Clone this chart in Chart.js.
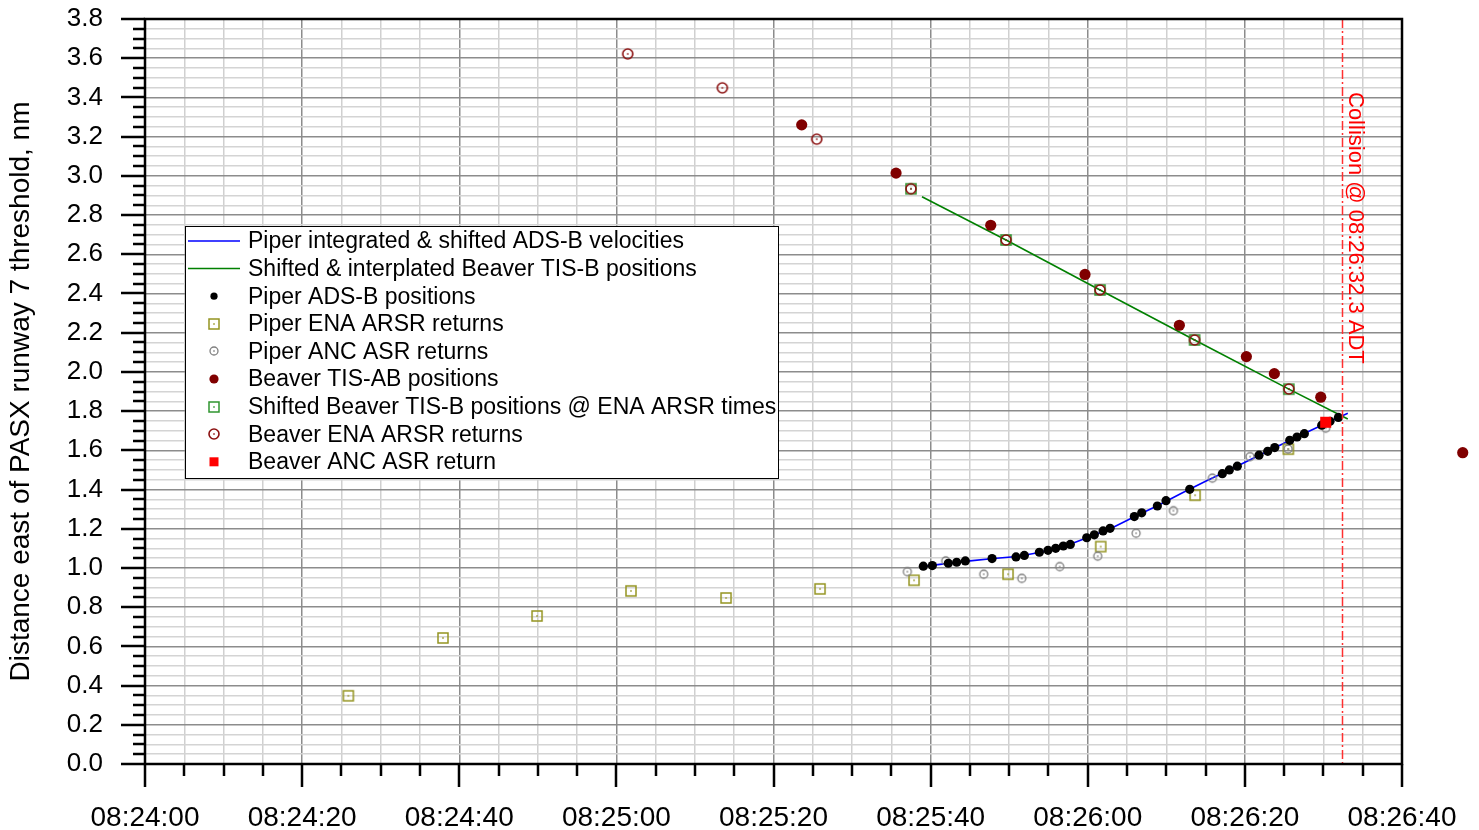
<!DOCTYPE html>
<html>
<head>
<meta charset="utf-8">
<script src="https://cdn.jsdelivr.net/npm/chart.js@4.4.1/dist/chart.umd.min.js"></script>
<style>
  html, body { margin: 0; padding: 0; background: #fff; }
  #wrap { width: 1479px; height: 830px; position: relative; }
</style>
</head>
<body>
<div id="wrap"><canvas id="c"></canvas></div>
<script>
// time axis: seconds after 08:24:00 ADT, distance in nm east of the threshold
const piperVelT  = [99.0, 102, 105, 108, 111, 114, 117, 120, 123, 126, 129, 132, 135, 138, 141, 144, 147, 150, 153.1];
const piperVelNm = [1.008, 1.022, 1.036, 1.048, 1.058, 1.080, 1.110, 1.155, 1.203, 1.262, 1.320, 1.382, 1.442, 1.500, 1.558, 1.617, 1.676, 1.732, 1.789];

const beaverInterpT  = [98.9, 109.6, 121.56, 133.6, 145.6, 153.1];
const beaverInterpNm = [2.893, 2.673, 2.418, 2.163, 1.912, 1.760];

const piperAdsbT  = [99.07, 100.22, 102.25, 103.32, 104.42, 107.82, 110.87, 111.93, 113.84, 114.94, 115.92, 116.89, 117.78, 119.87, 120.84, 121.95, 122.84, 125.93, 126.87, 128.86, 129.96, 132.98, 137.13, 138.02, 139.04, 141.80, 142.91, 143.80, 145.71, 146.64, 147.57, 149.78, 150.84, 151.90];
const piperAdsbNm = [1.009, 1.012, 1.024, 1.029, 1.036, 1.048, 1.056, 1.064, 1.080, 1.090, 1.100, 1.112, 1.120, 1.154, 1.169, 1.189, 1.202, 1.262, 1.281, 1.316, 1.343, 1.401, 1.481, 1.500, 1.519, 1.575, 1.595, 1.614, 1.651, 1.668, 1.685, 1.728, 1.748, 1.768];

const piperEnaT  = [25.88, 37.93, 49.90, 61.86, 73.96, 85.92, 97.89, 109.85, 121.65, 133.66, 145.53];
const piperEnaNm = [0.348, 0.643, 0.755, 0.883, 0.847, 0.893, 0.937, 0.968, 1.109, 1.371, 1.606];

const piperAncT  = [97.04, 101.92, 106.76, 111.60, 116.43, 121.27, 126.15, 130.90, 135.86, 140.66, 145.50, 150.29];
const piperAncNm = [0.981, 1.036, 0.968, 0.947, 1.007, 1.060, 1.177, 1.292, 1.458, 1.568, 1.607, 1.713];

const beaverTisT  = [83.59, 95.60, 107.65, 119.65, 131.66, 140.19, 143.75, 149.66, 167.73];
const beaverTisNm = [3.260, 3.014, 2.748, 2.497, 2.238, 2.078, 1.991, 1.871, 1.588];

const beaverShiftT  = [97.50, 109.60, 121.56, 133.60, 145.60];
const beaverShiftNm = [2.934, 2.673, 2.418, 2.163, 1.912];

const beaverEnaT  = [61.44, 73.49, 85.50, 97.50, 109.60, 121.56, 133.60, 145.60];
const beaverEnaNm = [3.622, 3.449, 3.187, 2.934, 2.673, 2.418, 2.163, 1.913];

const beaverAncT  = [150.29];
const beaverAncNm = [1.743];

const collisionT = 152.3;
const collisionText = 'Collision @ 08:26:32.3 ADT';
const yTitle = 'Distance east of PASX runway 7 threshold, nm';

const FONT = '"Liberation Sans", Arial, Helvetica, sans-serif';
Chart.defaults.font.family = FONT;
Chart.defaults.color = '#000';

function pts(xs, ys) {
  return xs.map((x, i) => ({ x: x, y: ys[i] }));
}

function clockLabel(t) {
  const m = 24 + Math.floor(t / 60);
  const s = Math.round(t % 60);
  return '08:' + String(m).padStart(2, '0') + ':' + String(s).padStart(2, '0');
}

// hollow marker with a tiny centre dot
function hollowMarker(shape, size, color, lw) {
  const c = document.createElement('canvas');
  const s = size + 4;
  c.width = s; c.height = s;
  const g = c.getContext('2d');
  g.strokeStyle = color;
  g.fillStyle = color;
  g.lineWidth = lw;
  if (shape === 'square') {
    g.strokeRect((s - size) / 2, (s - size) / 2, size, size);
  } else {
    g.beginPath();
    g.arc(s / 2, s / 2, size / 2, 0, Math.PI * 2);
    g.stroke();
  }
  g.fillRect(s / 2 - 0.75, s / 2 - 0.75, 1.5, 1.5);
  return c;
}

const oliveSq = hollowMarker('square', 10, '#949420', 1.5);
const grayCirc = hollowMarker('circle', 8, '#808080', 1.3);
const greenSq = hollowMarker('square', 10, '#2f952f', 1.5);
const redCirc = hollowMarker('circle', 10, '#8b1010', 1.6);

const isMajorY = v => Math.abs(v * 5 - Math.round(v * 5)) < 1e-6;
const isMajorX = v => Math.abs(v / 20 - Math.round(v / 20)) < 1e-6;

const datasets = [
  { label: 'Piper integrated & shifted ADS-B velocities', data: pts(piperVelT, piperVelNm),
    showLine: true, borderColor: '#0000ff', borderWidth: 1.6, pointRadius: 0, order: 9 },
  { label: 'Shifted & interplated Beaver TIS-B positions', data: pts(beaverInterpT, beaverInterpNm),
    showLine: true, borderColor: '#008000', borderWidth: 1.6, pointRadius: 0, order: 8 },
  { label: 'Piper ADS-B positions', data: pts(piperAdsbT, piperAdsbNm),
    pointStyle: 'circle', pointRadius: 4.6, pointBackgroundColor: '#000', pointBorderWidth: 0, order: 4 },
  { label: 'Piper ENA ARSR returns', data: pts(piperEnaT, piperEnaNm),
    pointStyle: oliveSq, pointRadius: 5, order: 6 },
  { label: 'Piper ANC ASR returns', data: pts(piperAncT, piperAncNm),
    pointStyle: grayCirc, pointRadius: 4, order: 5 },
  { label: 'Beaver TIS-AB positions', data: pts(beaverTisT, beaverTisNm),
    pointStyle: 'circle', pointRadius: 5.6, pointBackgroundColor: '#800000', pointBorderWidth: 0,
    order: 3, drawOutside: true },
  { label: 'Shifted Beaver TIS-B positions @ ENA ARSR times', data: pts(beaverShiftT, beaverShiftNm),
    pointStyle: greenSq, pointRadius: 5, order: 7 },
  { label: 'Beaver ENA ARSR returns', data: pts(beaverEnaT, beaverEnaNm),
    pointStyle: redCirc, pointRadius: 5, order: 2 },
  { label: 'Beaver ANC ASR return', data: pts(beaverAncT, beaverAncNm),
    pointStyle: 'rect', pointRadius: 7.8, pointBackgroundColor: '#ff0000', pointBorderWidth: 0, order: 1 }
];

// points past the axis range are still plotted (one TIS-B hit lies beyond 08:26:40)
const outsidePoints = {
  id: 'outsidePoints',
  afterDatasetsDraw(chart) {
    const a = chart.chartArea;
    chart.data.datasets.forEach((ds, i) => {
      if (!ds.drawOutside) return;
      chart.getDatasetMeta(i).data.forEach(el => {
        if (el.x > a.right || el.x < a.left || el.y < a.top || el.y > a.bottom) el.draw(chart.ctx);
      });
    });
  }
};

const collisionMark = {
  id: 'collisionMark',
  afterDatasetsDraw(chart) {
    const {ctx, chartArea: a, scales: {x}} = chart;
    const px = Math.round(x.getPixelForValue(collisionT)) + 0.5;
    ctx.save();
    ctx.strokeStyle = '#ff3030';
    ctx.lineWidth = 1.5;
    ctx.setLineDash([9, 3, 2, 3]);
    ctx.beginPath();
    ctx.moveTo(px, a.top);
    ctx.lineTo(px, a.bottom);
    ctx.stroke();
    ctx.setLineDash([]);
    ctx.translate(px + 6, a.top + 73);
    ctx.rotate(Math.PI / 2);
    ctx.fillStyle = '#ff0000';
    ctx.font = '22px ' + FONT;
    ctx.textAlign = 'left';
    ctx.textBaseline = 'alphabetic';
    ctx.fillText(collisionText, 0, 0);
    ctx.restore();
  }
};

const legendBox = {
  id: 'legendBox',
  afterDatasetsDraw(chart) {
    const {ctx, chartArea: a} = chart;
    const left = a.left + 40, top = a.top + 207, w = 593, h = 252;
    ctx.save();
    ctx.fillStyle = '#fff';
    ctx.fillRect(left, top, w, h);
    ctx.strokeStyle = '#000';
    ctx.lineWidth = 1;
    ctx.strokeRect(left + 0.5, top + 0.5, w, h);
    ctx.font = '23px ' + FONT;
    ctx.textBaseline = 'middle';
    chart.data.datasets.forEach((ds, row) => {
      const y = top + 15 + row * 27.6;
      const mx = left + 29;
      if (ds.showLine) {
        ctx.strokeStyle = ds.borderColor;
        ctx.lineWidth = 1.5;
        ctx.beginPath();
        ctx.moveTo(left + 3, y);
        ctx.lineTo(left + 55, y);
        ctx.stroke();
      } else if (ds.pointStyle instanceof HTMLCanvasElement) {
        ctx.drawImage(ds.pointStyle, Math.round(mx - ds.pointStyle.width / 2), Math.round(y - ds.pointStyle.height / 2));
      } else if (ds.pointStyle === 'rect') {
        ctx.fillStyle = ds.pointBackgroundColor;
        ctx.fillRect(mx - 4.5, y - 4.5, 9, 9);
      } else {
        ctx.fillStyle = ds.pointBackgroundColor;
        ctx.beginPath();
        ctx.arc(mx, y, ds.pointRadius - 1, 0, Math.PI * 2);
        ctx.fill();
      }
      ctx.fillStyle = '#000';
      ctx.fillText(ds.label, left + 63, y + 1);
    });
    ctx.restore();
  }
};

// outward major/minor tick marks plus the closed frame
const axisTicks = {
  id: 'axisTicks',
  afterDraw(chart) {
    const {ctx, chartArea: a, scales: {x, y}} = chart;
    ctx.save();
    ctx.strokeStyle = '#000';
    ctx.lineWidth = 2.5;
    ctx.beginPath();
    x.ticks.forEach(t => {
      const px = Math.round(x.getPixelForValue(t.value));
      ctx.moveTo(px, a.bottom);
      ctx.lineTo(px, a.bottom + (isMajorX(t.value) ? 23 : 12));
    });
    y.ticks.forEach(t => {
      const py = Math.round(y.getPixelForValue(t.value));
      ctx.moveTo(a.left, py);
      ctx.lineTo(a.left - (isMajorY(t.value) ? 24 : 12), py);
    });
    ctx.stroke();
    ctx.strokeRect(a.left, a.top, a.right - a.left, a.bottom - a.top);
    ctx.restore();
  }
};

new Chart(document.getElementById('c'), {
  type: 'scatter',
  data: { datasets: datasets },
  options: {
    responsive: true,
    maintainAspectRatio: false,
    animation: false,
    layout: { padding: { top: 19, right: 77, left: 0, bottom: 0 } },
    plugins: { legend: { display: false }, tooltip: { enabled: false } },
    scales: {
      x: {
        type: 'linear',
        min: 0,
        max: 160,
        afterFit: s => { s.height = 66; },
        border: { display: false },
        grid: {
          drawTicks: true,
          tickLength: 37,
          tickColor: 'rgba(0,0,0,0)',
          lineWidth: 1.5,
          color: ctx => isMajorX(ctx.tick.value) ? '#8c8c8c' : '#d0d0d0'
        },
        ticks: {
          stepSize: 5,
          autoSkip: false,
          maxRotation: 0,
          padding: 0,
          font: { size: 28 },
          callback: v => isMajorX(v) ? clockLabel(v) : ''
        }
      },
      y: {
        min: 0,
        max: 3.8,
        afterFit: s => { s.width = 145; },
        border: { display: false },
        grid: {
          drawTicks: true,
          tickLength: 42,
          tickColor: 'rgba(0,0,0,0)',
          lineWidth: 1.5,
          color: ctx => isMajorY(ctx.tick.value) ? '#8c8c8c' : '#d4d4d4'
        },
        ticks: {
          stepSize: 0.05,
          autoSkip: false,
          padding: 0,
          font: { size: 26 },
          callback: v => isMajorY(v) ? v.toFixed(1) : ''
        },
        title: { display: true, text: yTitle, font: { size: 28 }, padding: { top: 4, bottom: 2 } }
      }
    }
  },
  plugins: [outsidePoints, collisionMark, legendBox, axisTicks]
});
</script>
</body>
</html>
